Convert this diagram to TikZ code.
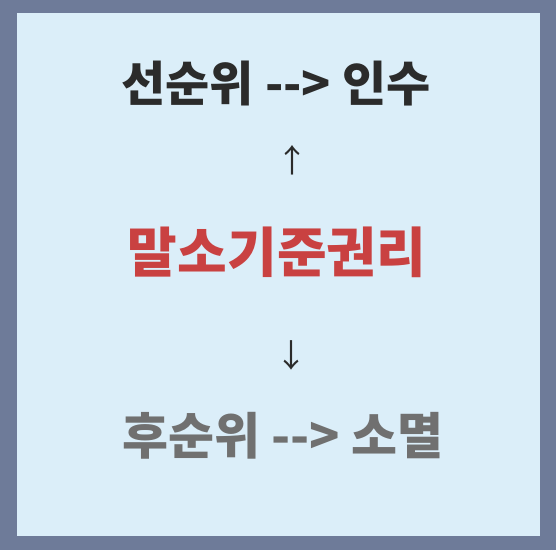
\documentclass[tikz,border=0pt]{standalone}
\usepackage{fontspec}
\newfontfamily\kr{Noto Sans CJK KR}
\newfontfamily\krblack{Noto Sans CJK KR Black}
\definecolor{frame}{HTML}{6E7B99}
\definecolor{panel}{HTML}{DBEEF9}
\definecolor{darktxt}{HTML}{2B2B2B}
\definecolor{redtxt}{HTML}{C94141}
\definecolor{graytxt}{HTML}{707070}
\tikzset{
  label/.style={inner sep=0pt, font=\kr\bfseries\fontsize{48}{52}\selectfont},
  keyterm/.style={inner sep=0pt, text=redtxt, font=\kr\bfseries\fontsize{54}{58}\selectfont},
  arrowglyph/.style={inner sep=0pt, text=darktxt, font=\kr\fontsize{32}{36}\selectfont}
}
\begin{document}
\begin{tikzpicture}[x=1pt,y=-1pt]
\useasboundingbox (0,0) rectangle (556,550);
\fill[frame] (0,0) rectangle (556,550);
\fill[panel] (17,13) rectangle (540,536);
\node[label, text=darktxt] (top) at (276,84) {선순위 --> 인수};
\node[arrowglyph] (up) at (292,160) {↑};
\node[keyterm] (mid) at (277,252) {말소기준권리};
\node[arrowglyph] (down) at (291,355) {↓};
\node[label, text=graytxt, font=\kr\bfseries\fontsize{50}{54}\selectfont] (bot) at (283,436) {후순위 --> 소멸};
\end{tikzpicture}
\end{document}
